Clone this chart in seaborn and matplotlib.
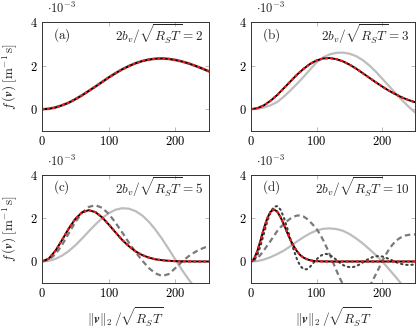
import matplotlib
matplotlib.use("Agg")
import matplotlib.pyplot as plt
import seaborn as sns

# speed grid (normalised), two resolutions
x10 = [0, 10, 20, 30, 40, 50, 60, 70, 80, 90, 100, 110, 120, 130, 140, 150,
       160, 170, 180, 190, 200, 210, 220, 230, 240, 250]
x5 = [0, 5, 10, 15, 20, 25, 30, 35, 40, 45, 50, 55, 60, 65, 70, 75, 80, 85,
      90, 95, 100, 105, 110, 115, 120, 125, 130, 135, 140, 145, 150, 155, 160,
      165, 170, 175, 180, 185, 190, 195, 200, 205, 210, 215, 220, 225, 230,
      235, 240, 245, 250]

# f(v) in units of 1e-3
a_ref = [0, 0.02, 0.08, 0.18, 0.30, 0.46, 0.64, 0.84, 1.04, 1.25, 1.46, 1.65,
         1.83, 1.98, 2.11, 2.21, 2.28, 2.32, 2.33, 2.31, 2.26, 2.19, 2.10,
         1.99, 1.87, 1.74]

b_ref = [0, 0.05, 0.18, 0.39, 0.65, 0.96, 1.27, 1.58, 1.85, 2.08, 2.24, 2.33,
         2.35, 2.30, 2.20, 2.05, 1.87, 1.66, 1.45, 1.24, 1.04, 0.85, 0.69,
         0.54, 0.42, 0.32]
b_gray = [0, 0.02, 0.08, 0.18, 0.33, 0.57, 0.86, 1.16, 1.48, 1.82, 2.15,
          2.38, 2.52, 2.59, 2.60, 2.55, 2.44, 2.26, 2.02, 1.73, 1.40, 1.07,
          0.74, 0.42, 0.12, -0.15]

c_ref = [0, 0.13, 0.49, 0.99, 1.52, 1.97, 2.27, 2.37, 2.28, 2.04, 1.71, 1.35,
         1.00, 0.71, 0.47, 0.30, 0.18, 0.10, 0.06, 0.03, 0.015, 0.007, 0.003,
         0.001, 0, 0]
c_dash = [0, 0.08, 0.33, 0.76, 1.30, 1.82, 2.25, 2.52, 2.60, 2.48, 2.20,
          1.80, 1.35, 0.88, 0.44, 0.05, -0.30, -0.55, -0.67, -0.58, -0.30,
          0.00, 0.25, 0.45, 0.60, 0.72]
c_gray = [0, 0.03, 0.12, 0.27, 0.48, 0.75, 1.06, 1.39, 1.71, 2.00, 2.23,
          2.39, 2.46, 2.44, 2.33, 2.13, 1.84, 1.47, 1.04, 0.57, 0.08, -0.40,
          -0.84, -1.24, -1.62, -1.98]

d_ref = [0, 0.13, 0.49, 1.00, 1.54, 2.00, 2.30, 2.40, 2.31, 2.06, 1.73, 1.36,
         1.01, 0.72, 0.48, 0.30, 0.18, 0.11, 0.06, 0.03, 0.015, 0.008, 0.004,
         0.002, 0.001, 0, 0, 0, 0, 0, 0, 0, 0, 0, 0, 0, 0, 0, 0, 0, 0, 0, 0,
         0, 0, 0, 0, 0, 0, 0, 0]
d_dot = [0, 0.06, 0.30, 0.75, 1.30, 1.85, 2.28, 2.52, 2.56, 2.40, 2.05, 1.58,
         1.05, 0.55, 0.12, -0.20, -0.35, -0.36, -0.25, -0.07, 0.10, 0.24,
         0.33, 0.35, 0.30, 0.20, 0.08, -0.05, -0.16, -0.23, -0.26, -0.26,
         -0.22, -0.14, -0.05, 0.05, 0.13, 0.20, 0.24, 0.25, 0.23, 0.18, 0.12,
         0.05, -0.02, -0.08, -0.12, -0.15, -0.16, -0.15, -0.13]
d_dash = [0, 0.04, 0.15, 0.32, 0.52, 0.74, 0.95, 1.18, 1.40, 1.58, 1.72,
          1.86, 1.98, 2.07, 2.12, 2.13, 2.08, 1.98, 1.84, 1.68, 1.50, 1.27,
          0.99, 0.67, 0.32, -0.04, -0.40, -0.75, -1.05, -1.30, -1.48, -1.60,
          -1.70, -1.72, -1.62, -1.42, -1.18, -0.90, -0.60, -0.30, 0.03, 0.30,
          0.55, 0.76, 0.93, 1.05, 1.14, 1.20, 1.23, 1.25, 1.25]
d_gray = [0, 0.02, 0.09, 0.20, 0.34, 0.50, 0.70, 0.92, 1.12, 1.30, 1.43,
          1.51, 1.53, 1.50, 1.42, 1.27, 1.07, 0.84, 0.58, 0.30, 0.00, -0.35,
          -0.70, -1.07, -1.45, -1.85]

panel_tags = ["(a)", "(b)", "(c)", "(d)"]
ratios = ["2", "3", "5", "10"]
xticks = [0, 100, 200]
yticks = [0, 2, 4]

sns.set_theme(style="ticks")
plt.rcParams["mathtext.fontset"] = "cm"
plt.rcParams["font.family"] = ["DejaVu Serif"]

fig = plt.figure(figsize=(4.16, 3.30), dpi=100)
boxes = [
    [0.101, 0.603, 0.401, 0.330],
    [0.603, 0.603, 0.395, 0.330],
    [0.101, 0.142, 0.401, 0.328],
    [0.603, 0.142, 0.395, 0.328],
]
axes = [fig.add_axes(b) for b in boxes]

light = "#bdbdbd"
mid = "#7a7a7a"
dark = "#444444"


def draw_ref(ax, x, y):
    sns.lineplot(x=x, y=y, ax=ax, color="black", linewidth=1.4)
    sns.lineplot(x=x, y=y, ax=ax, color="#ee1c1c", linewidth=1.6,
                 linestyle=(0, (1.3, 1.0)))


# (a)
sns.lineplot(x=x10, y=a_ref, ax=axes[0], color=light, linewidth=2.2)
draw_ref(axes[0], x10, a_ref)

# (b)
sns.lineplot(x=x10, y=b_gray, ax=axes[1], color=light, linewidth=1.6)
draw_ref(axes[1], x10, b_ref)

# (c)
sns.lineplot(x=x10, y=c_gray, ax=axes[2], color=light, linewidth=1.6)
sns.lineplot(x=x10, y=c_dash, ax=axes[2], color=mid, linewidth=1.6,
             linestyle=(0, (2.5, 1.6)))
draw_ref(axes[2], x10, c_ref)

# (d)
sns.lineplot(x=x10, y=d_gray, ax=axes[3], color=light, linewidth=1.6)
sns.lineplot(x=x5, y=d_dash, ax=axes[3], color=mid, linewidth=1.6,
             linestyle=(0, (2.5, 1.6)))
sns.lineplot(x=x5, y=d_dot, ax=axes[3], color=dark, linewidth=1.5,
             linestyle=(0, (0.7, 1.8)), dash_capstyle="round")
draw_ref(axes[3], x5, d_ref)

for i, ax in enumerate(axes):
    ax.set_xlim(0, 250)
    ax.set_ylim(-1, 4)
    ax.set_xticks(xticks)
    ax.set_xticklabels([f"${t}$" for t in xticks], fontsize=9)
    ax.set_yticks(yticks)
    ax.set_yticklabels([f"${t}$" for t in yticks], fontsize=9)
    ax.tick_params(direction="in", top=True, right=True, length=3,
                   width=0.6, color="#b0b0b0", pad=3, labelcolor="black")
    for s in ax.spines.values():
        s.set_linewidth(0.7)
        s.set_color("#333333")
    ax.set_xlabel("")
    ax.set_ylabel("")
    ax.text(0.065, 0.885, r"$\mathrm{" + panel_tags[i] + "}$",
            transform=ax.transAxes, ha="left", va="center", fontsize=9.5)
    ax.text(0.965, 0.885, r"$2b_v/\sqrt{R_ST} = " + ratios[i] + "$",
            transform=ax.transAxes, ha="right", va="center", fontsize=9.5)
    ax.text(0.03, 1.125, r"$\cdot 10^{-3}$", transform=ax.transAxes,
            ha="left", va="center", fontsize=9)

for ax in (axes[0], axes[2]):
    ax.set_ylabel(r"$f\,(\boldsymbol{v})\;[\mathrm{m}^{-1}\,\mathrm{s}]$",
                  fontsize=9.5)
    ax.yaxis.set_label_coords(-0.14, 0.5)
for ax in (axes[2], axes[3]):
    ax.set_xlabel(r"$\Vert\boldsymbol{v}\Vert_2\,/\sqrt{R_ST}$", fontsize=9.5)
    ax.xaxis.set_label_coords(0.5, -0.21)

fig.savefig("out.png", dpi=100)
